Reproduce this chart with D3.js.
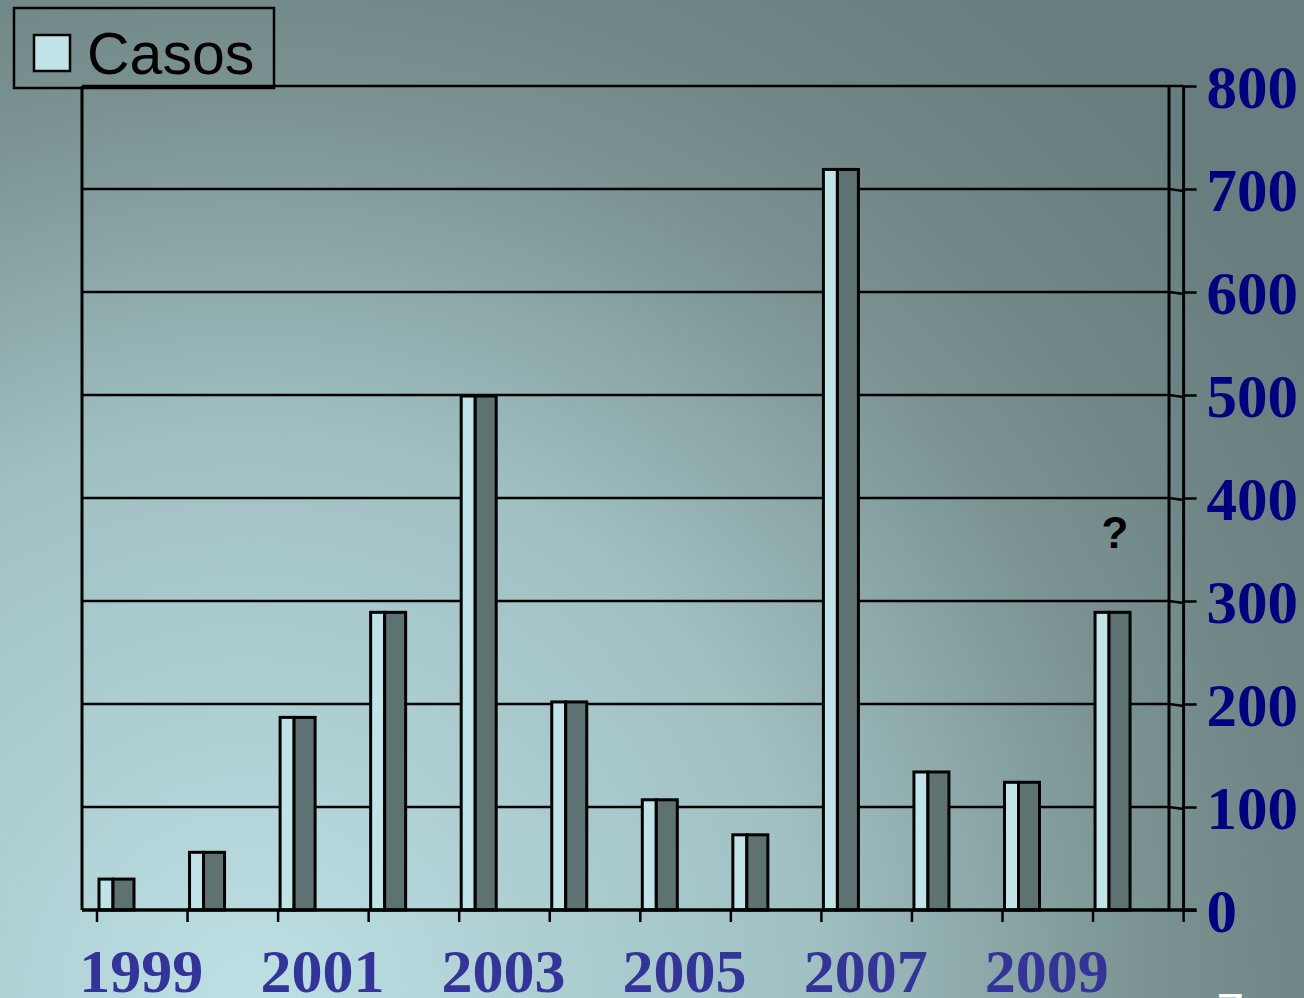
<!DOCTYPE html>
<html><head><meta charset="utf-8">
<script src="https://cdn.jsdelivr.net/npm/d3@7"></script>
<style>html,body{margin:0;padding:0;overflow:hidden;}svg{display:block;}</style>
</head><body>
<script>
const years = ["1999","2000","2001","2002","2003","2004","2005","2006","2007","2008","2009","2010"];
const casos = [30, 56, 187, 289, 499, 202, 107, 73, 719, 134, 124, 289];
const yTicks = [0,100,200,300,400,500,600,700,800];
const xLabels = ["1999","2001","2003","2005","2007","2009"];

(function(){
const W = 1304, H = 998;
const svg = d3.select("body").append("svg").attr("width", W).attr("height", H);
const defs = svg.append("defs");
const rg = defs.append("radialGradient").attr("id","bg").attr("gradientUnits","userSpaceOnUse")
  .attr("cx",250).attr("cy",1000).attr("r",1250);
rg.append("stop").attr("offset","0").attr("stop-color","#bde0e4");
rg.append("stop").attr("offset","0.45").attr("stop-color","#a0c0c2");
rg.append("stop").attr("offset","0.72").attr("stop-color","#7a9292");
rg.append("stop").attr("offset","0.85").attr("stop-color","#708686");
rg.append("stop").attr("offset","1").attr("stop-color","#687e7e");
svg.append("rect").attr("width",W).attr("height",H).attr("fill","url(#bg)");

const pLeft = 82, wallX = 1169, pRight = 1183.6, pTop = 86, pBottom = 910;
const x = d3.scaleBand().domain(years).range([97, pRight]).padding(0);
const y = d3.scaleLinear().domain([0,800]).range([pBottom, pTop]);

// gridlines
const g = svg.append("g");
yTicks.forEach(t => {
  if (t === 0) return;
  g.append("path").attr("d", `M${pLeft},${y(t)} L${wallX},${y(t)} L${pRight},${y(t)+ (t===800?0:2)}`)
   .attr("fill","none").attr("stroke","#000").attr("stroke-width",2.5);
});
// walls
g.append("line").attr("x1",pLeft).attr("x2",pLeft).attr("y1",pTop).attr("y2",pBottom).attr("stroke","#000").attr("stroke-width",3);
g.append("line").attr("x1",wallX).attr("x2",wallX).attr("y1",pTop).attr("y2",pBottom).attr("stroke","#000").attr("stroke-width",3);
g.append("line").attr("x1",pRight).attr("x2",pRight).attr("y1",pTop).attr("y2",pBottom).attr("stroke","#000").attr("stroke-width",3);

// bars
const bars = svg.append("g");
years.forEach((yr,i) => {
  const bx = x(yr) + 2;
  const yt = y(casos[i]);
  bars.append("rect").attr("x",bx).attr("y",yt).attr("width",14).attr("height",pBottom-yt)
    .attr("fill","#bfe3e7").attr("stroke","#000").attr("stroke-width",3);
  bars.append("rect").attr("x",bx+14).attr("y",yt).attr("width",21).attr("height",pBottom-yt)
    .attr("fill","#5e7272").attr("stroke","#000").attr("stroke-width",3);
});

// baseline x axis
svg.append("line").attr("x1",pLeft).attr("x2",pRight+13).attr("y1",pBottom).attr("y2",pBottom).attr("stroke","#000").attr("stroke-width",3.5);
// x ticks
const xt = svg.append("g");
years.concat(["end"]).forEach((yr) => {
  const tx = yr==="end" ? pRight : x(yr);
  xt.append("line").attr("x1",tx).attr("x2",tx).attr("y1",pBottom).attr("y2",pBottom+12).attr("stroke","#000").attr("stroke-width",2.5);
});
// x labels
svg.append("g").selectAll("text").data(xLabels).join("text")
  .attr("x", d => x(d) + x.bandwidth()/2 - 1).attr("y", 992)
  .attr("text-anchor","middle")
  .attr("font-family","'Liberation Serif','Times New Roman',serif").attr("font-weight","bold")
  .attr("font-size",62).attr("fill","#333399").text(d => d);

// right axis
const ra = svg.append("g").attr("transform",`translate(${pRight},0)`);
const axis = d3.axisRight(y).tickValues(yTicks).tickSize(13).tickPadding(10).tickFormat(d3.format("d"));
ra.call(axis);
ra.select(".domain").remove();
ra.selectAll(".tick line").attr("stroke","#000").attr("stroke-width",2.5);
ra.selectAll(".tick text").attr("font-family","'Liberation Serif','Times New Roman',serif")
  .attr("font-weight","bold").attr("font-size",61).attr("fill","#000080").attr("dy","0.36em");

// question mark
svg.append("text").attr("x",1115).attr("y",548).attr("text-anchor","middle")
  .attr("font-family","'Liberation Sans',Arial,sans-serif").attr("font-weight","bold")
  .attr("font-size",44).attr("fill","#000").text("?");

// legend
const lg = svg.append("g");
lg.append("rect").attr("x",14).attr("y",8).attr("width",260).attr("height",80)
  .attr("fill","none").attr("stroke","#000").attr("stroke-width",2.5);
lg.append("rect").attr("x",34).attr("y",35).attr("width",36).attr("height",36)
  .attr("fill","#bfe3e7").attr("stroke","#000").attr("stroke-width",2.5);
lg.append("text").attr("x",87).attr("y",74)
  .attr("font-family","'Liberation Sans',Arial,sans-serif").attr("font-size",59).attr("fill","#000").text("Casos");

// partial white glyph at bottom edge
svg.append("text").attr("x",1216).attr("y",1026)
  .attr("font-family","'Liberation Sans',Arial,sans-serif").attr("font-size",46).attr("fill","#fff").text("Z");
})();
</script>
</body></html>
